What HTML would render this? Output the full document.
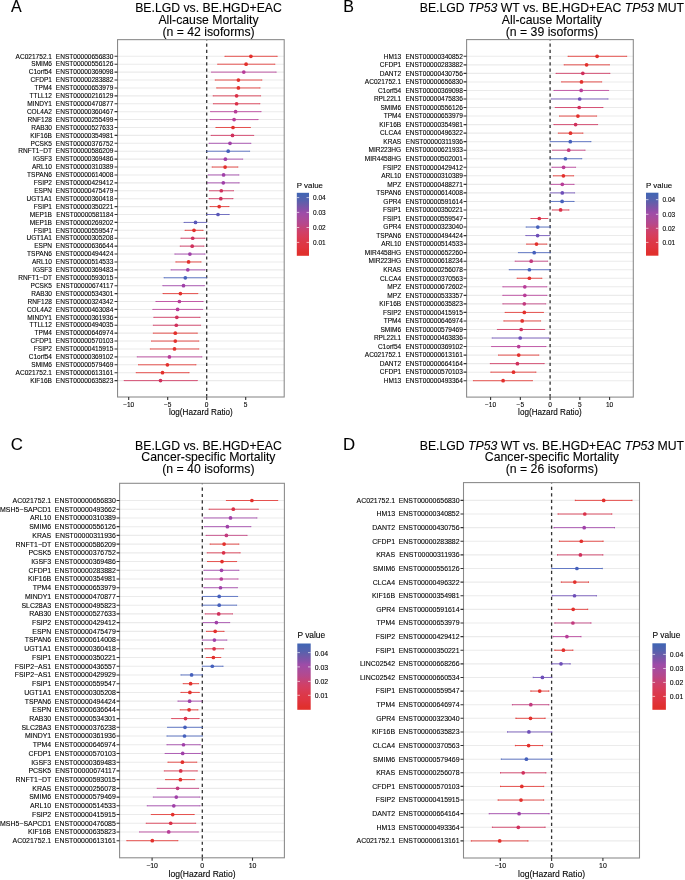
<!DOCTYPE html>
<html><head><meta charset="utf-8"><title>Forest plots</title>
<style>
html,body{margin:0;padding:0;background:#fff;}
body{width:685px;height:880px;overflow:hidden;font-family:"Liberation Sans", sans-serif;}
svg{display:block;filter:blur(0.3px);}
text{font-family:"Liberation Sans", sans-serif;stroke:#000;stroke-width:0.1;}
</style></head><body>
<svg width="685" height="880" viewBox="0 0 685 880" font-family="'Liberation Sans', sans-serif">
<text x="11" y="12.15" font-size="16" fill="#000000">A</text>
<text x="208.5" y="12.15" font-size="12.25" fill="#000000" text-anchor="middle" xml:space="preserve">BE.LGD vs. BE.HGD+EAC</text>
<text x="208.5" y="23.85" font-size="12.25" fill="#000000" text-anchor="middle" xml:space="preserve">All-cause Mortality</text>
<text x="208.5" y="35.55" font-size="12.25" fill="#000000" text-anchor="middle" xml:space="preserve">(n = 42 isoforms)</text>
<path d="M117.55 56.3H284.2M117.55 64.21H284.2M117.55 72.12H284.2M117.55 80.03H284.2M117.55 87.94H284.2M117.55 95.85H284.2M117.55 103.76H284.2M117.55 111.67H284.2M117.55 119.58H284.2M117.55 127.49H284.2M117.55 135.4H284.2M117.55 143.31H284.2M117.55 151.22H284.2M117.55 159.13H284.2M117.55 167.04H284.2M117.55 174.95H284.2M117.55 182.86H284.2M117.55 190.77H284.2M117.55 198.68H284.2M117.55 206.59H284.2M117.55 214.5H284.2M117.55 222.41H284.2M117.55 230.32H284.2M117.55 238.23H284.2M117.55 246.14H284.2M117.55 254.05H284.2M117.55 261.96H284.2M117.55 269.87H284.2M117.55 277.78H284.2M117.55 285.69H284.2M117.55 293.6H284.2M117.55 301.51H284.2M117.55 309.42H284.2M117.55 317.33H284.2M117.55 325.24H284.2M117.55 333.15H284.2M117.55 341.06H284.2M117.55 348.97H284.2M117.55 356.88H284.2M117.55 364.79H284.2M117.55 372.7H284.2M117.55 380.61H284.2" stroke="#ebebeb" stroke-width="1.07" fill="none"/>
<line x1="206.7" y1="39.65" x2="206.7" y2="397" stroke="#333333" stroke-width="1.3" stroke-dasharray="3.13 3.13" stroke-dashoffset="2.36"/>
<path d="M224.9 56.3H277.2M224.9 55.9V56.7M277.2 55.9V56.7" stroke="#E3302C" stroke-width="1.0" stroke-opacity="0.82" fill="none"/>
<circle cx="250.9" cy="56.3" r="1.85" fill="#E3302C"/>
<path d="M217.7 64.21H274.9M217.7 63.81V64.61M274.9 63.81V64.61" stroke="#E3302C" stroke-width="1.0" stroke-opacity="0.82" fill="none"/>
<circle cx="246.1" cy="64.21" r="1.85" fill="#E3302C"/>
<path d="M211.6 72.12H276.2M211.6 71.72V72.52M276.2 71.72V72.52" stroke="#B83C98" stroke-width="1.0" stroke-opacity="0.82" fill="none"/>
<circle cx="243.8" cy="72.12" r="1.85" fill="#B83C98"/>
<path d="M215.2 80.03H261.9M215.2 79.63V80.43M261.9 79.63V80.43" stroke="#E3302C" stroke-width="1.0" stroke-opacity="0.82" fill="none"/>
<circle cx="238.4" cy="80.03" r="1.85" fill="#E3302C"/>
<path d="M216.7 87.94H260.1M216.7 87.54V88.34M260.1 87.54V88.34" stroke="#E3302C" stroke-width="1.0" stroke-opacity="0.82" fill="none"/>
<circle cx="238.4" cy="87.94" r="1.85" fill="#E3302C"/>
<path d="M213.1 95.85H260.6M213.1 95.45V96.25M260.6 95.45V96.25" stroke="#DA3048" stroke-width="1.0" stroke-opacity="0.82" fill="none"/>
<circle cx="236.6" cy="95.85" r="1.85" fill="#DA3048"/>
<path d="M213.4 103.76H259.9M213.4 103.36V104.16M259.9 103.36V104.16" stroke="#DA3048" stroke-width="1.0" stroke-opacity="0.82" fill="none"/>
<circle cx="236.6" cy="103.76" r="1.85" fill="#DA3048"/>
<path d="M210.6 111.67H261.1M210.6 111.27V112.07M261.1 111.27V112.07" stroke="#B83C98" stroke-width="1.0" stroke-opacity="0.82" fill="none"/>
<circle cx="235.6" cy="111.67" r="1.85" fill="#B83C98"/>
<path d="M210 119.58H258.1M210 119.18V119.98M258.1 119.18V119.98" stroke="#B83C98" stroke-width="1.0" stroke-opacity="0.82" fill="none"/>
<circle cx="234.1" cy="119.58" r="1.85" fill="#B83C98"/>
<path d="M215.9 127.49H250.4M215.9 127.09V127.89M250.4 127.09V127.89" stroke="#E3302C" stroke-width="1.0" stroke-opacity="0.82" fill="none"/>
<circle cx="233" cy="127.49" r="1.85" fill="#E3302C"/>
<path d="M211.1 135.4H253.7M211.1 135V135.8M253.7 135V135.8" stroke="#D0305C" stroke-width="1.0" stroke-opacity="0.82" fill="none"/>
<circle cx="232.5" cy="135.4" r="1.85" fill="#D0305C"/>
<path d="M209 143.31H250.9M209 142.91V143.71M250.9 142.91V143.71" stroke="#A040A8" stroke-width="1.0" stroke-opacity="0.82" fill="none"/>
<circle cx="230" cy="143.31" r="1.85" fill="#A040A8"/>
<path d="M206.5 151.22H249.6M206.5 150.82V151.62M249.6 150.82V151.62" stroke="#4560BC" stroke-width="1.0" stroke-opacity="0.82" fill="none"/>
<circle cx="228.2" cy="151.22" r="1.85" fill="#4560BC"/>
<path d="M208.5 159.13H242.7M208.5 158.73V159.53M242.7 158.73V159.53" stroke="#A040A8" stroke-width="1.0" stroke-opacity="0.82" fill="none"/>
<circle cx="225.4" cy="159.13" r="1.85" fill="#A040A8"/>
<path d="M212.1 167.04H237.9M212.1 166.64V167.44M237.9 166.64V167.44" stroke="#E3302C" stroke-width="1.0" stroke-opacity="0.82" fill="none"/>
<circle cx="225.1" cy="167.04" r="1.85" fill="#E3302C"/>
<path d="M208.3 174.95H238.9M208.3 174.55V175.35M238.9 174.55V175.35" stroke="#A040A8" stroke-width="1.0" stroke-opacity="0.82" fill="none"/>
<circle cx="223.6" cy="174.95" r="1.85" fill="#A040A8"/>
<path d="M207.5 182.86H239.2M207.5 182.46V183.26M239.2 182.46V183.26" stroke="#A040A8" stroke-width="1.0" stroke-opacity="0.82" fill="none"/>
<circle cx="223.3" cy="182.86" r="1.85" fill="#A040A8"/>
<path d="M209.5 190.77H233.5M209.5 190.37V191.17M233.5 190.37V191.17" stroke="#D0305C" stroke-width="1.0" stroke-opacity="0.82" fill="none"/>
<circle cx="221.3" cy="190.77" r="1.85" fill="#D0305C"/>
<path d="M209 198.68H233M209 198.28V199.08M233 198.28V199.08" stroke="#D0305C" stroke-width="1.0" stroke-opacity="0.82" fill="none"/>
<circle cx="220.8" cy="198.68" r="1.85" fill="#D0305C"/>
<path d="M210 206.59H229M210 206.19V206.99M229 206.19V206.99" stroke="#E3302C" stroke-width="1.0" stroke-opacity="0.82" fill="none"/>
<circle cx="219.2" cy="206.59" r="1.85" fill="#E3302C"/>
<path d="M206.5 214.5H229.2M206.5 214.1V214.9M229.2 214.1V214.9" stroke="#5A58B8" stroke-width="1.0" stroke-opacity="0.82" fill="none"/>
<circle cx="218" cy="214.5" r="1.85" fill="#5A58B8"/>
<path d="M184 222.41H206.5M184 222.01V222.81M206.5 222.01V222.81" stroke="#5A58B8" stroke-width="1.0" stroke-opacity="0.82" fill="none"/>
<circle cx="195.5" cy="222.41" r="1.85" fill="#5A58B8"/>
<path d="M185 230.32H203.1M185 229.92V230.72M203.1 229.92V230.72" stroke="#E3302C" stroke-width="1.0" stroke-opacity="0.82" fill="none"/>
<circle cx="194" cy="230.32" r="1.85" fill="#E3302C"/>
<path d="M180.9 238.23H205M180.9 237.83V238.63M205 237.83V238.63" stroke="#D0305C" stroke-width="1.0" stroke-opacity="0.82" fill="none"/>
<circle cx="192.7" cy="238.23" r="1.85" fill="#D0305C"/>
<path d="M180.2 246.14H203.9M180.2 245.74V246.54M203.9 245.74V246.54" stroke="#D0305C" stroke-width="1.0" stroke-opacity="0.82" fill="none"/>
<circle cx="192.2" cy="246.14" r="1.85" fill="#D0305C"/>
<path d="M174.8 254.05H205M174.8 253.65V254.45M205 253.65V254.45" stroke="#A040A8" stroke-width="1.0" stroke-opacity="0.82" fill="none"/>
<circle cx="189.9" cy="254.05" r="1.85" fill="#A040A8"/>
<path d="M175.8 261.96H201.1M175.8 261.56V262.36M201.1 261.56V262.36" stroke="#E3302C" stroke-width="1.0" stroke-opacity="0.82" fill="none"/>
<circle cx="188.6" cy="261.96" r="1.85" fill="#E3302C"/>
<path d="M171 269.87H205M171 269.47V270.27M205 269.47V270.27" stroke="#A040A8" stroke-width="1.0" stroke-opacity="0.82" fill="none"/>
<circle cx="187.8" cy="269.87" r="1.85" fill="#A040A8"/>
<path d="M164 277.78H206.5M164 277.38V278.18M206.5 277.38V278.18" stroke="#4560BC" stroke-width="1.0" stroke-opacity="0.82" fill="none"/>
<circle cx="185.3" cy="277.78" r="1.85" fill="#4560BC"/>
<path d="M162.8 285.69H204.4M162.8 285.29V286.09M204.4 285.29V286.09" stroke="#A040A8" stroke-width="1.0" stroke-opacity="0.82" fill="none"/>
<circle cx="183.5" cy="285.69" r="1.85" fill="#A040A8"/>
<path d="M163 293.6H197.8M163 293.2V294M197.8 293.2V294" stroke="#E3302C" stroke-width="1.0" stroke-opacity="0.82" fill="none"/>
<circle cx="180.4" cy="293.6" r="1.85" fill="#E3302C"/>
<path d="M155.9 301.51H203.1M155.9 301.11V301.91M203.1 301.11V301.91" stroke="#B83C98" stroke-width="1.0" stroke-opacity="0.82" fill="none"/>
<circle cx="179.4" cy="301.51" r="1.85" fill="#B83C98"/>
<path d="M152.8 309.42H202.6M152.8 309.02V309.82M202.6 309.02V309.82" stroke="#B83C98" stroke-width="1.0" stroke-opacity="0.82" fill="none"/>
<circle cx="177.6" cy="309.42" r="1.85" fill="#B83C98"/>
<path d="M153.8 317.33H200.1M153.8 316.93V317.73M200.1 316.93V317.73" stroke="#D0305C" stroke-width="1.0" stroke-opacity="0.82" fill="none"/>
<circle cx="176.8" cy="317.33" r="1.85" fill="#D0305C"/>
<path d="M153.3 325.24H200.6M153.3 324.84V325.64M200.6 324.84V325.64" stroke="#D0305C" stroke-width="1.0" stroke-opacity="0.82" fill="none"/>
<circle cx="176.3" cy="325.24" r="1.85" fill="#D0305C"/>
<path d="M153.3 333.15H197.3M153.3 332.75V333.55M197.3 332.75V333.55" stroke="#E3302C" stroke-width="1.0" stroke-opacity="0.82" fill="none"/>
<circle cx="175.3" cy="333.15" r="1.85" fill="#E3302C"/>
<path d="M151.5 341.06H198.8M151.5 340.66V341.46M198.8 340.66V341.46" stroke="#E3302C" stroke-width="1.0" stroke-opacity="0.82" fill="none"/>
<circle cx="175.3" cy="341.06" r="1.85" fill="#E3302C"/>
<path d="M150.3 348.97H198.8M150.3 348.57V349.37M198.8 348.57V349.37" stroke="#E3302C" stroke-width="1.0" stroke-opacity="0.82" fill="none"/>
<circle cx="174.5" cy="348.97" r="1.85" fill="#E3302C"/>
<path d="M137.2 356.88H201.9M137.2 356.48V357.28M201.9 356.48V357.28" stroke="#B83C98" stroke-width="1.0" stroke-opacity="0.82" fill="none"/>
<circle cx="169.4" cy="356.88" r="1.85" fill="#B83C98"/>
<path d="M138.5 364.79H196M138.5 364.39V365.19M196 364.39V365.19" stroke="#E3302C" stroke-width="1.0" stroke-opacity="0.82" fill="none"/>
<circle cx="167.4" cy="364.79" r="1.85" fill="#E3302C"/>
<path d="M136.2 372.7H189.1M136.2 372.3V373.1M189.1 372.3V373.1" stroke="#E3302C" stroke-width="1.0" stroke-opacity="0.82" fill="none"/>
<circle cx="162.5" cy="372.7" r="1.85" fill="#E3302C"/>
<path d="M124.2 380.61H197.3M124.2 380.21V381.01M197.3 380.21V381.01" stroke="#D0305C" stroke-width="1.0" stroke-opacity="0.82" fill="none"/>
<circle cx="160.5" cy="380.61" r="1.85" fill="#D0305C"/>
<rect x="117.55" y="39.65" width="166.65" height="357.35" fill="none" stroke="#8a8a8a" stroke-width="1.07"/>
<path d="M114.55 56.3H117.55M114.55 64.21H117.55M114.55 72.12H117.55M114.55 80.03H117.55M114.55 87.94H117.55M114.55 95.85H117.55M114.55 103.76H117.55M114.55 111.67H117.55M114.55 119.58H117.55M114.55 127.49H117.55M114.55 135.4H117.55M114.55 143.31H117.55M114.55 151.22H117.55M114.55 159.13H117.55M114.55 167.04H117.55M114.55 174.95H117.55M114.55 182.86H117.55M114.55 190.77H117.55M114.55 198.68H117.55M114.55 206.59H117.55M114.55 214.5H117.55M114.55 222.41H117.55M114.55 230.32H117.55M114.55 238.23H117.55M114.55 246.14H117.55M114.55 254.05H117.55M114.55 261.96H117.55M114.55 269.87H117.55M114.55 277.78H117.55M114.55 285.69H117.55M114.55 293.6H117.55M114.55 301.51H117.55M114.55 309.42H117.55M114.55 317.33H117.55M114.55 325.24H117.55M114.55 333.15H117.55M114.55 341.06H117.55M114.55 348.97H117.55M114.55 356.88H117.55M114.55 364.79H117.55M114.55 372.7H117.55M114.55 380.61H117.55" stroke="#333333" stroke-width="1.1" fill="none"/>
<text x="52" y="58.55" font-size="6.55" fill="#000000" text-anchor="end">AC021752.1</text>
<text x="113.3" y="58.55" font-size="6.55" fill="#000000" text-anchor="end">ENST00000656830</text>
<text x="52" y="66.46" font-size="6.55" fill="#000000" text-anchor="end">SMIM6</text>
<text x="113.3" y="66.46" font-size="6.55" fill="#000000" text-anchor="end">ENST00000556126</text>
<text x="52" y="74.37" font-size="6.55" fill="#000000" text-anchor="end">C1orf54</text>
<text x="113.3" y="74.37" font-size="6.55" fill="#000000" text-anchor="end">ENST00000369098</text>
<text x="52" y="82.28" font-size="6.55" fill="#000000" text-anchor="end">CFDP1</text>
<text x="113.3" y="82.28" font-size="6.55" fill="#000000" text-anchor="end">ENST00000283882</text>
<text x="52" y="90.19" font-size="6.55" fill="#000000" text-anchor="end">TPM4</text>
<text x="113.3" y="90.19" font-size="6.55" fill="#000000" text-anchor="end">ENST00000653979</text>
<text x="52" y="98.1" font-size="6.55" fill="#000000" text-anchor="end">TTLL12</text>
<text x="113.3" y="98.1" font-size="6.55" fill="#000000" text-anchor="end">ENST00000216129</text>
<text x="52" y="106.01" font-size="6.55" fill="#000000" text-anchor="end">MINDY1</text>
<text x="113.3" y="106.01" font-size="6.55" fill="#000000" text-anchor="end">ENST00000470877</text>
<text x="52" y="113.92" font-size="6.55" fill="#000000" text-anchor="end">COL4A2</text>
<text x="113.3" y="113.92" font-size="6.55" fill="#000000" text-anchor="end">ENST00000360467</text>
<text x="52" y="121.83" font-size="6.55" fill="#000000" text-anchor="end">RNF128</text>
<text x="113.3" y="121.83" font-size="6.55" fill="#000000" text-anchor="end">ENST00000255499</text>
<text x="52" y="129.74" font-size="6.55" fill="#000000" text-anchor="end">RAB30</text>
<text x="113.3" y="129.74" font-size="6.55" fill="#000000" text-anchor="end">ENST00000527633</text>
<text x="52" y="137.65" font-size="6.55" fill="#000000" text-anchor="end">KIF16B</text>
<text x="113.3" y="137.65" font-size="6.55" fill="#000000" text-anchor="end">ENST00000354981</text>
<text x="52" y="145.56" font-size="6.55" fill="#000000" text-anchor="end">PCSK5</text>
<text x="113.3" y="145.56" font-size="6.55" fill="#000000" text-anchor="end">ENST00000376752</text>
<text x="52" y="153.47" font-size="6.55" fill="#000000" text-anchor="end">RNFT1−DT</text>
<text x="113.3" y="153.47" font-size="6.55" fill="#000000" text-anchor="end">ENST00000586209</text>
<text x="52" y="161.38" font-size="6.55" fill="#000000" text-anchor="end">IGSF3</text>
<text x="113.3" y="161.38" font-size="6.55" fill="#000000" text-anchor="end">ENST00000369486</text>
<text x="52" y="169.29" font-size="6.55" fill="#000000" text-anchor="end">ARL10</text>
<text x="113.3" y="169.29" font-size="6.55" fill="#000000" text-anchor="end">ENST00000310389</text>
<text x="52" y="177.2" font-size="6.55" fill="#000000" text-anchor="end">TSPAN6</text>
<text x="113.3" y="177.2" font-size="6.55" fill="#000000" text-anchor="end">ENST00000614008</text>
<text x="52" y="185.11" font-size="6.55" fill="#000000" text-anchor="end">FSIP2</text>
<text x="113.3" y="185.11" font-size="6.55" fill="#000000" text-anchor="end">ENST00000429412</text>
<text x="52" y="193.02" font-size="6.55" fill="#000000" text-anchor="end">ESPN</text>
<text x="113.3" y="193.02" font-size="6.55" fill="#000000" text-anchor="end">ENST00000475479</text>
<text x="52" y="200.93" font-size="6.55" fill="#000000" text-anchor="end">UGT1A1</text>
<text x="113.3" y="200.93" font-size="6.55" fill="#000000" text-anchor="end">ENST00000360418</text>
<text x="52" y="208.84" font-size="6.55" fill="#000000" text-anchor="end">FSIP1</text>
<text x="113.3" y="208.84" font-size="6.55" fill="#000000" text-anchor="end">ENST00000350221</text>
<text x="52" y="216.75" font-size="6.55" fill="#000000" text-anchor="end">MEP1B</text>
<text x="113.3" y="216.75" font-size="6.55" fill="#000000" text-anchor="end">ENST00000581184</text>
<text x="52" y="224.66" font-size="6.55" fill="#000000" text-anchor="end">MEP1B</text>
<text x="113.3" y="224.66" font-size="6.55" fill="#000000" text-anchor="end">ENST00000269202</text>
<text x="52" y="232.57" font-size="6.55" fill="#000000" text-anchor="end">FSIP1</text>
<text x="113.3" y="232.57" font-size="6.55" fill="#000000" text-anchor="end">ENST00000559547</text>
<text x="52" y="240.48" font-size="6.55" fill="#000000" text-anchor="end">UGT1A1</text>
<text x="113.3" y="240.48" font-size="6.55" fill="#000000" text-anchor="end">ENST00000305208</text>
<text x="52" y="248.39" font-size="6.55" fill="#000000" text-anchor="end">ESPN</text>
<text x="113.3" y="248.39" font-size="6.55" fill="#000000" text-anchor="end">ENST00000636644</text>
<text x="52" y="256.3" font-size="6.55" fill="#000000" text-anchor="end">TSPAN6</text>
<text x="113.3" y="256.3" font-size="6.55" fill="#000000" text-anchor="end">ENST00000494424</text>
<text x="52" y="264.21" font-size="6.55" fill="#000000" text-anchor="end">ARL10</text>
<text x="113.3" y="264.21" font-size="6.55" fill="#000000" text-anchor="end">ENST00000514533</text>
<text x="52" y="272.12" font-size="6.55" fill="#000000" text-anchor="end">IGSF3</text>
<text x="113.3" y="272.12" font-size="6.55" fill="#000000" text-anchor="end">ENST00000369483</text>
<text x="52" y="280.03" font-size="6.55" fill="#000000" text-anchor="end">RNFT1−DT</text>
<text x="113.3" y="280.03" font-size="6.55" fill="#000000" text-anchor="end">ENST00000593015</text>
<text x="52" y="287.94" font-size="6.55" fill="#000000" text-anchor="end">PCSK5</text>
<text x="113.3" y="287.94" font-size="6.55" fill="#000000" text-anchor="end">ENST00000674117</text>
<text x="52" y="295.85" font-size="6.55" fill="#000000" text-anchor="end">RAB30</text>
<text x="113.3" y="295.85" font-size="6.55" fill="#000000" text-anchor="end">ENST00000534301</text>
<text x="52" y="303.76" font-size="6.55" fill="#000000" text-anchor="end">RNF128</text>
<text x="113.3" y="303.76" font-size="6.55" fill="#000000" text-anchor="end">ENST00000324342</text>
<text x="52" y="311.67" font-size="6.55" fill="#000000" text-anchor="end">COL4A2</text>
<text x="113.3" y="311.67" font-size="6.55" fill="#000000" text-anchor="end">ENST00000463084</text>
<text x="52" y="319.58" font-size="6.55" fill="#000000" text-anchor="end">MINDY1</text>
<text x="113.3" y="319.58" font-size="6.55" fill="#000000" text-anchor="end">ENST00000361936</text>
<text x="52" y="327.49" font-size="6.55" fill="#000000" text-anchor="end">TTLL12</text>
<text x="113.3" y="327.49" font-size="6.55" fill="#000000" text-anchor="end">ENST00000494035</text>
<text x="52" y="335.4" font-size="6.55" fill="#000000" text-anchor="end">TPM4</text>
<text x="113.3" y="335.4" font-size="6.55" fill="#000000" text-anchor="end">ENST00000646974</text>
<text x="52" y="343.31" font-size="6.55" fill="#000000" text-anchor="end">CFDP1</text>
<text x="113.3" y="343.31" font-size="6.55" fill="#000000" text-anchor="end">ENST00000570103</text>
<text x="52" y="351.22" font-size="6.55" fill="#000000" text-anchor="end">FSIP2</text>
<text x="113.3" y="351.22" font-size="6.55" fill="#000000" text-anchor="end">ENST00000415915</text>
<text x="52" y="359.13" font-size="6.55" fill="#000000" text-anchor="end">C1orf54</text>
<text x="113.3" y="359.13" font-size="6.55" fill="#000000" text-anchor="end">ENST00000369102</text>
<text x="52" y="367.04" font-size="6.55" fill="#000000" text-anchor="end">SMIM6</text>
<text x="113.3" y="367.04" font-size="6.55" fill="#000000" text-anchor="end">ENST00000579469</text>
<text x="52" y="374.95" font-size="6.55" fill="#000000" text-anchor="end">AC021752.1</text>
<text x="113.3" y="374.95" font-size="6.55" fill="#000000" text-anchor="end">ENST00000613161</text>
<text x="52" y="382.86" font-size="6.55" fill="#000000" text-anchor="end">KIF16B</text>
<text x="113.3" y="382.86" font-size="6.55" fill="#000000" text-anchor="end">ENST00000635823</text>
<path d="M128.7 397V400M167.7 397V400M206.7 397V400M245.7 397V400" stroke="#333333" stroke-width="1.1" fill="none"/>
<text x="128.7" y="406.6" font-size="6.55" fill="#000000" text-anchor="middle">−10</text>
<text x="167.7" y="406.6" font-size="6.55" fill="#000000" text-anchor="middle">−5</text>
<text x="206.7" y="406.6" font-size="6.55" fill="#000000" text-anchor="middle">0</text>
<text x="245.7" y="406.6" font-size="6.55" fill="#000000" text-anchor="middle">5</text>
<text x="200.88" y="415.3" font-size="8.15" fill="#000000" text-anchor="middle">log(Hazard Ratio)</text>
<text x="296.8" y="187.9" font-size="7.9" fill="#000000">P value</text>
<defs><linearGradient id="gA" x1="0" y1="0" x2="0" y2="1"><stop offset="0" stop-color="#3F65B4"/><stop offset="0.11" stop-color="#5462AE"/><stop offset="0.19" stop-color="#6E5AA8"/><stop offset="0.27" stop-color="#8A50A8"/><stop offset="0.32" stop-color="#9E4CA8"/><stop offset="0.4" stop-color="#A84C9C"/><stop offset="0.49" stop-color="#B6488C"/><stop offset="0.56" stop-color="#C44478"/><stop offset="0.62" stop-color="#D04068"/><stop offset="0.7" stop-color="#D83C58"/><stop offset="0.78" stop-color="#DC3848"/><stop offset="0.86" stop-color="#E03440"/><stop offset="0.95" stop-color="#E0302E"/><stop offset="1" stop-color="#E2302C"/></linearGradient></defs>
<rect x="296.8" y="192.8" width="12.2" height="63" fill="url(#gA)"/>
<path d="M296.8 197.6H299.24M306.56 197.6H309M296.8 212.4H299.24M306.56 212.4H309M296.8 227.5H299.24M306.56 227.5H309M296.8 242.4H299.24M306.56 242.4H309" stroke="#ffffff" stroke-opacity="0.8" stroke-width="0.8" fill="none"/>
<text x="313" y="200.33" font-size="6.5" fill="#000000">0.04</text>
<text x="313" y="215.13" font-size="6.5" fill="#000000">0.03</text>
<text x="313" y="230.23" font-size="6.5" fill="#000000">0.02</text>
<text x="313" y="245.13" font-size="6.5" fill="#000000">0.01</text>
<text x="343.3" y="12.15" font-size="16" fill="#000000">B</text>
<text x="551.9" y="12.15" font-size="12.25" fill="#000000" text-anchor="middle" xml:space="preserve">BE.LGD <tspan font-style="italic">TP53</tspan> WT vs. BE.HGD+EAC <tspan font-style="italic">TP53</tspan> MUT</text>
<text x="551.9" y="23.85" font-size="12.25" fill="#000000" text-anchor="middle" xml:space="preserve">All-cause Mortality</text>
<text x="551.9" y="35.55" font-size="12.25" fill="#000000" text-anchor="middle" xml:space="preserve">(n = 39 isoforms)</text>
<path d="M466.6 56.3H633.3M466.6 64.84H633.3M466.6 73.37H633.3M466.6 81.91H633.3M466.6 90.45H633.3M466.6 98.98H633.3M466.6 107.52H633.3M466.6 116.06H633.3M466.6 124.6H633.3M466.6 133.13H633.3M466.6 141.67H633.3M466.6 150.21H633.3M466.6 158.74H633.3M466.6 167.28H633.3M466.6 175.82H633.3M466.6 184.36H633.3M466.6 192.89H633.3M466.6 201.43H633.3M466.6 209.97H633.3M466.6 218.5H633.3M466.6 227.04H633.3M466.6 235.58H633.3M466.6 244.11H633.3M466.6 252.65H633.3M466.6 261.19H633.3M466.6 269.73H633.3M466.6 278.26H633.3M466.6 286.8H633.3M466.6 295.34H633.3M466.6 303.87H633.3M466.6 312.41H633.3M466.6 320.95H633.3M466.6 329.48H633.3M466.6 338.02H633.3M466.6 346.56H633.3M466.6 355.1H633.3M466.6 363.63H633.3M466.6 372.17H633.3M466.6 380.71H633.3" stroke="#ebebeb" stroke-width="1.07" fill="none"/>
<line x1="550.1" y1="39.6" x2="550.1" y2="397.1" stroke="#333333" stroke-width="1.3" stroke-dasharray="3.13 3.13" stroke-dashoffset="2.33"/>
<path d="M568 56.3H626.7M568 55.87V56.73M626.7 55.87V56.73" stroke="#E3302C" stroke-width="1.0" stroke-opacity="0.82" fill="none"/>
<circle cx="597.1" cy="56.3" r="1.85" fill="#E3302C"/>
<path d="M564.1 64.84H609.4M564.1 64.41V65.26M609.4 64.41V65.26" stroke="#E3302C" stroke-width="1.0" stroke-opacity="0.82" fill="none"/>
<circle cx="586.6" cy="64.84" r="1.85" fill="#E3302C"/>
<path d="M556 73.37H609.9M556 72.95V73.8M609.9 72.95V73.8" stroke="#D0305C" stroke-width="1.0" stroke-opacity="0.82" fill="none"/>
<circle cx="582.8" cy="73.37" r="1.85" fill="#D0305C"/>
<path d="M561.6 81.91H601.7M561.6 81.48V82.34M601.7 81.48V82.34" stroke="#E3302C" stroke-width="1.0" stroke-opacity="0.82" fill="none"/>
<circle cx="581.5" cy="81.91" r="1.85" fill="#E3302C"/>
<path d="M553.9 90.45H608.6M553.9 90.02V90.87M608.6 90.02V90.87" stroke="#B83C98" stroke-width="1.0" stroke-opacity="0.82" fill="none"/>
<circle cx="581.2" cy="90.45" r="1.85" fill="#B83C98"/>
<path d="M551.4 98.98H608.1M551.4 98.56V99.41M608.1 98.56V99.41" stroke="#6E4EB8" stroke-width="1.0" stroke-opacity="0.82" fill="none"/>
<circle cx="579.7" cy="98.98" r="1.85" fill="#6E4EB8"/>
<path d="M555.2 107.52H603M555.2 107.1V107.95M603 107.1V107.95" stroke="#D0305C" stroke-width="1.0" stroke-opacity="0.82" fill="none"/>
<circle cx="579.2" cy="107.52" r="1.85" fill="#D0305C"/>
<path d="M559.5 116.06H596.6M559.5 115.63V116.49M596.6 115.63V116.49" stroke="#E3302C" stroke-width="1.0" stroke-opacity="0.82" fill="none"/>
<circle cx="577.9" cy="116.06" r="1.85" fill="#E3302C"/>
<path d="M553.9 124.6H597.6M553.9 124.17V125.02M597.6 124.17V125.02" stroke="#D0305C" stroke-width="1.0" stroke-opacity="0.82" fill="none"/>
<circle cx="575.6" cy="124.6" r="1.85" fill="#D0305C"/>
<path d="M558.3 133.13H583M558.3 132.71V133.56M583 132.71V133.56" stroke="#E3302C" stroke-width="1.0" stroke-opacity="0.82" fill="none"/>
<circle cx="570.5" cy="133.13" r="1.85" fill="#E3302C"/>
<path d="M550.3 141.67H591M550.3 141.24V142.1M591 141.24V142.1" stroke="#4560BC" stroke-width="1.0" stroke-opacity="0.82" fill="none"/>
<circle cx="570.3" cy="141.67" r="1.85" fill="#4560BC"/>
<path d="M552.6 150.21H585.1M552.6 149.78V150.63M585.1 149.78V150.63" stroke="#C23A7E" stroke-width="1.0" stroke-opacity="0.82" fill="none"/>
<circle cx="568.7" cy="150.21" r="1.85" fill="#C23A7E"/>
<path d="M550.3 158.74H581.8M550.3 158.32V159.17M581.8 158.32V159.17" stroke="#4560BC" stroke-width="1.0" stroke-opacity="0.82" fill="none"/>
<circle cx="565.4" cy="158.74" r="1.85" fill="#4560BC"/>
<path d="M551.9 167.28H575.6M551.9 166.85V167.71M575.6 166.85V167.71" stroke="#B83C98" stroke-width="1.0" stroke-opacity="0.82" fill="none"/>
<circle cx="563.6" cy="167.28" r="1.85" fill="#B83C98"/>
<path d="M553.4 175.82H573.6M553.4 175.39V176.24M573.6 175.39V176.24" stroke="#E3302C" stroke-width="1.0" stroke-opacity="0.82" fill="none"/>
<circle cx="563.4" cy="175.82" r="1.85" fill="#E3302C"/>
<path d="M551.1 184.36H574.1M551.1 183.93V184.78M574.1 183.93V184.78" stroke="#B83C98" stroke-width="1.0" stroke-opacity="0.82" fill="none"/>
<circle cx="562.3" cy="184.36" r="1.85" fill="#B83C98"/>
<path d="M550.6 192.89H574.6M550.6 192.47V193.32M574.6 192.47V193.32" stroke="#6E4EB8" stroke-width="1.0" stroke-opacity="0.82" fill="none"/>
<circle cx="562.3" cy="192.89" r="1.85" fill="#6E4EB8"/>
<path d="M550.3 201.43H574.1M550.3 201V201.86M574.1 201V201.86" stroke="#4560BC" stroke-width="1.0" stroke-opacity="0.82" fill="none"/>
<circle cx="562.1" cy="201.43" r="1.85" fill="#4560BC"/>
<path d="M552.4 209.97H569M552.4 209.54V210.39M569 209.54V210.39" stroke="#DA3048" stroke-width="1.0" stroke-opacity="0.82" fill="none"/>
<circle cx="560.6" cy="209.97" r="1.85" fill="#DA3048"/>
<path d="M530.9 218.5H547.8M530.9 218.08V218.93M547.8 218.08V218.93" stroke="#DA3048" stroke-width="1.0" stroke-opacity="0.82" fill="none"/>
<circle cx="539.3" cy="218.5" r="1.85" fill="#DA3048"/>
<path d="M526.1 227.04H550.3M526.1 226.61V227.47M550.3 226.61V227.47" stroke="#4560BC" stroke-width="1.0" stroke-opacity="0.82" fill="none"/>
<circle cx="537.8" cy="227.04" r="1.85" fill="#4560BC"/>
<path d="M525.8 235.58H549.6M525.8 235.15V236M549.6 235.15V236" stroke="#6E4EB8" stroke-width="1.0" stroke-opacity="0.82" fill="none"/>
<circle cx="537.6" cy="235.58" r="1.85" fill="#6E4EB8"/>
<path d="M526.6 244.11H546.8M526.6 243.69V244.54M546.8 243.69V244.54" stroke="#E3302C" stroke-width="1.0" stroke-opacity="0.82" fill="none"/>
<circle cx="536.5" cy="244.11" r="1.85" fill="#E3302C"/>
<path d="M518.4 252.65H550.3M518.4 252.22V253.08M550.3 252.22V253.08" stroke="#4560BC" stroke-width="1.0" stroke-opacity="0.82" fill="none"/>
<circle cx="534.2" cy="252.65" r="1.85" fill="#4560BC"/>
<path d="M515.1 261.19H547.5M515.1 260.76V261.61M547.5 260.76V261.61" stroke="#C23A7E" stroke-width="1.0" stroke-opacity="0.82" fill="none"/>
<circle cx="531.2" cy="261.19" r="1.85" fill="#C23A7E"/>
<path d="M509.2 269.73H550.3M509.2 269.3V270.15M550.3 269.3V270.15" stroke="#4560BC" stroke-width="1.0" stroke-opacity="0.82" fill="none"/>
<circle cx="529.4" cy="269.73" r="1.85" fill="#4560BC"/>
<path d="M517.1 278.26H541.9M517.1 277.84V278.69M541.9 277.84V278.69" stroke="#E3302C" stroke-width="1.0" stroke-opacity="0.82" fill="none"/>
<circle cx="529.4" cy="278.26" r="1.85" fill="#E3302C"/>
<path d="M502.8 286.8H546.8M502.8 286.37V287.23M546.8 286.37V287.23" stroke="#B83C98" stroke-width="1.0" stroke-opacity="0.82" fill="none"/>
<circle cx="524.8" cy="286.8" r="1.85" fill="#B83C98"/>
<path d="M502.8 295.34H546.8M502.8 294.91V295.76M546.8 294.91V295.76" stroke="#B83C98" stroke-width="1.0" stroke-opacity="0.82" fill="none"/>
<circle cx="524.8" cy="295.34" r="1.85" fill="#B83C98"/>
<path d="M502.8 303.87H545.7M502.8 303.45V304.3M545.7 303.45V304.3" stroke="#C23A7E" stroke-width="1.0" stroke-opacity="0.82" fill="none"/>
<circle cx="524.3" cy="303.87" r="1.85" fill="#C23A7E"/>
<path d="M505.1 312.41H543.4M505.1 311.98V312.84M543.4 311.98V312.84" stroke="#E3302C" stroke-width="1.0" stroke-opacity="0.82" fill="none"/>
<circle cx="524.3" cy="312.41" r="1.85" fill="#E3302C"/>
<path d="M503.8 320.95H540.6M503.8 320.52V321.37M540.6 320.52V321.37" stroke="#E3302C" stroke-width="1.0" stroke-opacity="0.82" fill="none"/>
<circle cx="522.2" cy="320.95" r="1.85" fill="#E3302C"/>
<path d="M497.4 329.48H544.7M497.4 329.06V329.91M544.7 329.06V329.91" stroke="#D0305C" stroke-width="1.0" stroke-opacity="0.82" fill="none"/>
<circle cx="521.2" cy="329.48" r="1.85" fill="#D0305C"/>
<path d="M492.1 338.02H548.8M492.1 337.59V338.45M548.8 337.59V338.45" stroke="#6E4EB8" stroke-width="1.0" stroke-opacity="0.82" fill="none"/>
<circle cx="520.2" cy="338.02" r="1.85" fill="#6E4EB8"/>
<path d="M491.6 346.56H546M491.6 346.13V346.98M546 346.13V346.98" stroke="#B83C98" stroke-width="1.0" stroke-opacity="0.82" fill="none"/>
<circle cx="518.7" cy="346.56" r="1.85" fill="#B83C98"/>
<path d="M498.5 355.1H538.8M498.5 354.67V355.52M538.8 354.67V355.52" stroke="#E3302C" stroke-width="1.0" stroke-opacity="0.82" fill="none"/>
<circle cx="518.7" cy="355.1" r="1.85" fill="#E3302C"/>
<path d="M490.3 363.63H544.2M490.3 363.21V364.06M544.2 363.21V364.06" stroke="#D0305C" stroke-width="1.0" stroke-opacity="0.82" fill="none"/>
<circle cx="517.4" cy="363.63" r="1.85" fill="#D0305C"/>
<path d="M490.8 372.17H536M490.8 371.74V372.6M536 371.74V372.6" stroke="#E3302C" stroke-width="1.0" stroke-opacity="0.82" fill="none"/>
<circle cx="513.5" cy="372.17" r="1.85" fill="#E3302C"/>
<path d="M473.4 380.71H532.4M473.4 380.28V381.13M532.4 380.28V381.13" stroke="#E3302C" stroke-width="1.0" stroke-opacity="0.82" fill="none"/>
<circle cx="503.1" cy="380.71" r="1.85" fill="#E3302C"/>
<rect x="466.6" y="39.6" width="166.7" height="357.5" fill="none" stroke="#8a8a8a" stroke-width="1.07"/>
<path d="M463.6 56.3H466.6M463.6 64.84H466.6M463.6 73.37H466.6M463.6 81.91H466.6M463.6 90.45H466.6M463.6 98.98H466.6M463.6 107.52H466.6M463.6 116.06H466.6M463.6 124.6H466.6M463.6 133.13H466.6M463.6 141.67H466.6M463.6 150.21H466.6M463.6 158.74H466.6M463.6 167.28H466.6M463.6 175.82H466.6M463.6 184.36H466.6M463.6 192.89H466.6M463.6 201.43H466.6M463.6 209.97H466.6M463.6 218.5H466.6M463.6 227.04H466.6M463.6 235.58H466.6M463.6 244.11H466.6M463.6 252.65H466.6M463.6 261.19H466.6M463.6 269.73H466.6M463.6 278.26H466.6M463.6 286.8H466.6M463.6 295.34H466.6M463.6 303.87H466.6M463.6 312.41H466.6M463.6 320.95H466.6M463.6 329.48H466.6M463.6 338.02H466.6M463.6 346.56H466.6M463.6 355.1H466.6M463.6 363.63H466.6M463.6 372.17H466.6M463.6 380.71H466.6" stroke="#333333" stroke-width="1.1" fill="none"/>
<text x="401.2" y="58.55" font-size="6.55" fill="#000000" text-anchor="end">HM13</text>
<text x="462.9" y="58.55" font-size="6.55" fill="#000000" text-anchor="end">ENST00000340852</text>
<text x="401.2" y="67.09" font-size="6.55" fill="#000000" text-anchor="end">CFDP1</text>
<text x="462.9" y="67.09" font-size="6.55" fill="#000000" text-anchor="end">ENST00000283882</text>
<text x="401.2" y="75.62" font-size="6.55" fill="#000000" text-anchor="end">DANT2</text>
<text x="462.9" y="75.62" font-size="6.55" fill="#000000" text-anchor="end">ENST00000430756</text>
<text x="401.2" y="84.16" font-size="6.55" fill="#000000" text-anchor="end">AC021752.1</text>
<text x="462.9" y="84.16" font-size="6.55" fill="#000000" text-anchor="end">ENST00000656830</text>
<text x="401.2" y="92.7" font-size="6.55" fill="#000000" text-anchor="end">C1orf54</text>
<text x="462.9" y="92.7" font-size="6.55" fill="#000000" text-anchor="end">ENST00000369098</text>
<text x="401.2" y="101.23" font-size="6.55" fill="#000000" text-anchor="end">RPL22L1</text>
<text x="462.9" y="101.23" font-size="6.55" fill="#000000" text-anchor="end">ENST00000475836</text>
<text x="401.2" y="109.77" font-size="6.55" fill="#000000" text-anchor="end">SMIM6</text>
<text x="462.9" y="109.77" font-size="6.55" fill="#000000" text-anchor="end">ENST00000556126</text>
<text x="401.2" y="118.31" font-size="6.55" fill="#000000" text-anchor="end">TPM4</text>
<text x="462.9" y="118.31" font-size="6.55" fill="#000000" text-anchor="end">ENST00000653979</text>
<text x="401.2" y="126.85" font-size="6.55" fill="#000000" text-anchor="end">KIF16B</text>
<text x="462.9" y="126.85" font-size="6.55" fill="#000000" text-anchor="end">ENST00000354981</text>
<text x="401.2" y="135.38" font-size="6.55" fill="#000000" text-anchor="end">CLCA4</text>
<text x="462.9" y="135.38" font-size="6.55" fill="#000000" text-anchor="end">ENST00000496322</text>
<text x="401.2" y="143.92" font-size="6.55" fill="#000000" text-anchor="end">KRAS</text>
<text x="462.9" y="143.92" font-size="6.55" fill="#000000" text-anchor="end">ENST00000311936</text>
<text x="401.2" y="152.46" font-size="6.55" fill="#000000" text-anchor="end">MIR223HG</text>
<text x="462.9" y="152.46" font-size="6.55" fill="#000000" text-anchor="end">ENST00000621933</text>
<text x="401.2" y="160.99" font-size="6.55" fill="#000000" text-anchor="end">MIR4458HG</text>
<text x="462.9" y="160.99" font-size="6.55" fill="#000000" text-anchor="end">ENST00000502001</text>
<text x="401.2" y="169.53" font-size="6.55" fill="#000000" text-anchor="end">FSIP2</text>
<text x="462.9" y="169.53" font-size="6.55" fill="#000000" text-anchor="end">ENST00000429412</text>
<text x="401.2" y="178.07" font-size="6.55" fill="#000000" text-anchor="end">ARL10</text>
<text x="462.9" y="178.07" font-size="6.55" fill="#000000" text-anchor="end">ENST00000310389</text>
<text x="401.2" y="186.61" font-size="6.55" fill="#000000" text-anchor="end">MPZ</text>
<text x="462.9" y="186.61" font-size="6.55" fill="#000000" text-anchor="end">ENST00000488271</text>
<text x="401.2" y="195.14" font-size="6.55" fill="#000000" text-anchor="end">TSPAN6</text>
<text x="462.9" y="195.14" font-size="6.55" fill="#000000" text-anchor="end">ENST00000614008</text>
<text x="401.2" y="203.68" font-size="6.55" fill="#000000" text-anchor="end">GPR4</text>
<text x="462.9" y="203.68" font-size="6.55" fill="#000000" text-anchor="end">ENST00000591614</text>
<text x="401.2" y="212.22" font-size="6.55" fill="#000000" text-anchor="end">FSIP1</text>
<text x="462.9" y="212.22" font-size="6.55" fill="#000000" text-anchor="end">ENST00000350221</text>
<text x="401.2" y="220.75" font-size="6.55" fill="#000000" text-anchor="end">FSIP1</text>
<text x="462.9" y="220.75" font-size="6.55" fill="#000000" text-anchor="end">ENST00000559547</text>
<text x="401.2" y="229.29" font-size="6.55" fill="#000000" text-anchor="end">GPR4</text>
<text x="462.9" y="229.29" font-size="6.55" fill="#000000" text-anchor="end">ENST00000323040</text>
<text x="401.2" y="237.83" font-size="6.55" fill="#000000" text-anchor="end">TSPAN6</text>
<text x="462.9" y="237.83" font-size="6.55" fill="#000000" text-anchor="end">ENST00000494424</text>
<text x="401.2" y="246.36" font-size="6.55" fill="#000000" text-anchor="end">ARL10</text>
<text x="462.9" y="246.36" font-size="6.55" fill="#000000" text-anchor="end">ENST00000514533</text>
<text x="401.2" y="254.9" font-size="6.55" fill="#000000" text-anchor="end">MIR4458HG</text>
<text x="462.9" y="254.9" font-size="6.55" fill="#000000" text-anchor="end">ENST00000652260</text>
<text x="401.2" y="263.44" font-size="6.55" fill="#000000" text-anchor="end">MIR223HG</text>
<text x="462.9" y="263.44" font-size="6.55" fill="#000000" text-anchor="end">ENST00000618234</text>
<text x="401.2" y="271.98" font-size="6.55" fill="#000000" text-anchor="end">KRAS</text>
<text x="462.9" y="271.98" font-size="6.55" fill="#000000" text-anchor="end">ENST00000256078</text>
<text x="401.2" y="280.51" font-size="6.55" fill="#000000" text-anchor="end">CLCA4</text>
<text x="462.9" y="280.51" font-size="6.55" fill="#000000" text-anchor="end">ENST00000370563</text>
<text x="401.2" y="289.05" font-size="6.55" fill="#000000" text-anchor="end">MPZ</text>
<text x="462.9" y="289.05" font-size="6.55" fill="#000000" text-anchor="end">ENST00000672602</text>
<text x="401.2" y="297.59" font-size="6.55" fill="#000000" text-anchor="end">MPZ</text>
<text x="462.9" y="297.59" font-size="6.55" fill="#000000" text-anchor="end">ENST00000533357</text>
<text x="401.2" y="306.12" font-size="6.55" fill="#000000" text-anchor="end">KIF16B</text>
<text x="462.9" y="306.12" font-size="6.55" fill="#000000" text-anchor="end">ENST00000635823</text>
<text x="401.2" y="314.66" font-size="6.55" fill="#000000" text-anchor="end">FSIP2</text>
<text x="462.9" y="314.66" font-size="6.55" fill="#000000" text-anchor="end">ENST00000415915</text>
<text x="401.2" y="323.2" font-size="6.55" fill="#000000" text-anchor="end">TPM4</text>
<text x="462.9" y="323.2" font-size="6.55" fill="#000000" text-anchor="end">ENST00000646974</text>
<text x="401.2" y="331.73" font-size="6.55" fill="#000000" text-anchor="end">SMIM6</text>
<text x="462.9" y="331.73" font-size="6.55" fill="#000000" text-anchor="end">ENST00000579469</text>
<text x="401.2" y="340.27" font-size="6.55" fill="#000000" text-anchor="end">RPL22L1</text>
<text x="462.9" y="340.27" font-size="6.55" fill="#000000" text-anchor="end">ENST00000463836</text>
<text x="401.2" y="348.81" font-size="6.55" fill="#000000" text-anchor="end">C1orf54</text>
<text x="462.9" y="348.81" font-size="6.55" fill="#000000" text-anchor="end">ENST00000369102</text>
<text x="401.2" y="357.35" font-size="6.55" fill="#000000" text-anchor="end">AC021752.1</text>
<text x="462.9" y="357.35" font-size="6.55" fill="#000000" text-anchor="end">ENST00000613161</text>
<text x="401.2" y="365.88" font-size="6.55" fill="#000000" text-anchor="end">DANT2</text>
<text x="462.9" y="365.88" font-size="6.55" fill="#000000" text-anchor="end">ENST00000664164</text>
<text x="401.2" y="374.42" font-size="6.55" fill="#000000" text-anchor="end">CFDP1</text>
<text x="462.9" y="374.42" font-size="6.55" fill="#000000" text-anchor="end">ENST00000570103</text>
<text x="401.2" y="382.96" font-size="6.55" fill="#000000" text-anchor="end">HM13</text>
<text x="462.9" y="382.96" font-size="6.55" fill="#000000" text-anchor="end">ENST00000493364</text>
<path d="M490.6 397.1V400.1M520.35 397.1V400.1M550.1 397.1V400.1M579.85 397.1V400.1M609.6 397.1V400.1" stroke="#333333" stroke-width="1.1" fill="none"/>
<text x="490.6" y="406.6" font-size="6.55" fill="#000000" text-anchor="middle">−10</text>
<text x="520.35" y="406.6" font-size="6.55" fill="#000000" text-anchor="middle">−5</text>
<text x="550.1" y="406.6" font-size="6.55" fill="#000000" text-anchor="middle">0</text>
<text x="579.85" y="406.6" font-size="6.55" fill="#000000" text-anchor="middle">5</text>
<text x="609.6" y="406.6" font-size="6.55" fill="#000000" text-anchor="middle">10</text>
<text x="549.95" y="415.3" font-size="8.15" fill="#000000" text-anchor="middle">log(Hazard Ratio)</text>
<text x="646" y="187.9" font-size="7.9" fill="#000000">P value</text>
<defs><linearGradient id="gB" x1="0" y1="0" x2="0" y2="1"><stop offset="0" stop-color="#3F65B4"/><stop offset="0.11" stop-color="#5462AE"/><stop offset="0.19" stop-color="#6E5AA8"/><stop offset="0.27" stop-color="#8A50A8"/><stop offset="0.32" stop-color="#9E4CA8"/><stop offset="0.4" stop-color="#A84C9C"/><stop offset="0.49" stop-color="#B6488C"/><stop offset="0.56" stop-color="#C44478"/><stop offset="0.62" stop-color="#D04068"/><stop offset="0.7" stop-color="#D83C58"/><stop offset="0.78" stop-color="#DC3848"/><stop offset="0.86" stop-color="#E03440"/><stop offset="0.95" stop-color="#E0302E"/><stop offset="1" stop-color="#E2302C"/></linearGradient></defs>
<rect x="646" y="192.7" width="12.4" height="63" fill="url(#gB)"/>
<path d="M646 199.65H648.48M655.92 199.65H658.4M646 214.3H648.48M655.92 214.3H658.4M646 228.3H648.48M655.92 228.3H658.4M646 242.4H648.48M655.92 242.4H658.4" stroke="#ffffff" stroke-opacity="0.8" stroke-width="0.8" fill="none"/>
<text x="662.5" y="202.38" font-size="6.5" fill="#000000">0.04</text>
<text x="662.5" y="217.03" font-size="6.5" fill="#000000">0.03</text>
<text x="662.5" y="231.03" font-size="6.5" fill="#000000">0.02</text>
<text x="662.5" y="245.13" font-size="6.5" fill="#000000">0.01</text>
<text x="10.8" y="449.8" font-size="16.8" fill="#000000">C</text>
<text x="208.4" y="449.7" font-size="12.25" fill="#000000" text-anchor="middle" xml:space="preserve">BE.LGD vs. BE.HGD+EAC</text>
<text x="208.4" y="461.2" font-size="12.25" fill="#000000" text-anchor="middle" xml:space="preserve">Cancer-specific Mortality</text>
<text x="208.4" y="472.7" font-size="12.25" fill="#000000" text-anchor="middle" xml:space="preserve">(n = 40 isoforms)</text>
<path d="M119.6 500.5H284.4M119.6 509.22H284.4M119.6 517.95H284.4M119.6 526.67H284.4M119.6 535.39H284.4M119.6 544.12H284.4M119.6 552.84H284.4M119.6 561.56H284.4M119.6 570.28H284.4M119.6 579.01H284.4M119.6 587.73H284.4M119.6 596.45H284.4M119.6 605.18H284.4M119.6 613.9H284.4M119.6 622.62H284.4M119.6 631.35H284.4M119.6 640.07H284.4M119.6 648.79H284.4M119.6 657.51H284.4M119.6 666.24H284.4M119.6 674.96H284.4M119.6 683.68H284.4M119.6 692.41H284.4M119.6 701.13H284.4M119.6 709.85H284.4M119.6 718.58H284.4M119.6 727.3H284.4M119.6 736.02H284.4M119.6 744.74H284.4M119.6 753.47H284.4M119.6 762.19H284.4M119.6 770.91H284.4M119.6 779.64H284.4M119.6 788.36H284.4M119.6 797.08H284.4M119.6 805.81H284.4M119.6 814.53H284.4M119.6 823.25H284.4M119.6 831.97H284.4M119.6 840.7H284.4" stroke="#ebebeb" stroke-width="1.07" fill="none"/>
<line x1="202.3" y1="483.3" x2="202.3" y2="857.8" stroke="#333333" stroke-width="1.3" stroke-dasharray="3.22 3.22" stroke-dashoffset="2.3"/>
<path d="M226.4 500.5H277.7M226.4 500.06V500.94M277.7 500.06V500.94" stroke="#E3302C" stroke-width="1.0" stroke-opacity="0.82" fill="none"/>
<circle cx="251.9" cy="500.5" r="1.85" fill="#E3302C"/>
<path d="M209 509.22H258.3M209 508.79V509.66M258.3 508.79V509.66" stroke="#DA3048" stroke-width="1.0" stroke-opacity="0.82" fill="none"/>
<circle cx="233.3" cy="509.22" r="1.85" fill="#DA3048"/>
<path d="M203.9 517.95H257M203.9 517.51V518.38M257 517.51V518.38" stroke="#A040A8" stroke-width="1.0" stroke-opacity="0.82" fill="none"/>
<circle cx="230.5" cy="517.95" r="1.85" fill="#A040A8"/>
<path d="M204.4 526.67H250.9M204.4 526.23V527.11M250.9 526.23V527.11" stroke="#A040A8" stroke-width="1.0" stroke-opacity="0.82" fill="none"/>
<circle cx="227.4" cy="526.67" r="1.85" fill="#A040A8"/>
<path d="M206 535.39H247.1M206 534.96V535.83M247.1 534.96V535.83" stroke="#C23A7E" stroke-width="1.0" stroke-opacity="0.82" fill="none"/>
<circle cx="226.4" cy="535.39" r="1.85" fill="#C23A7E"/>
<path d="M210 544.12H238.9M210 543.68V544.55M238.9 543.68V544.55" stroke="#E3302C" stroke-width="1.0" stroke-opacity="0.82" fill="none"/>
<circle cx="224.1" cy="544.12" r="1.85" fill="#E3302C"/>
<path d="M207.2 552.84H240.2M207.2 552.4V553.27M240.2 552.4V553.27" stroke="#DA3048" stroke-width="1.0" stroke-opacity="0.82" fill="none"/>
<circle cx="223.6" cy="552.84" r="1.85" fill="#DA3048"/>
<path d="M207.5 561.56H236.6M207.5 561.12V562M236.6 561.12V562" stroke="#E3302C" stroke-width="1.0" stroke-opacity="0.82" fill="none"/>
<circle cx="222" cy="561.56" r="1.85" fill="#E3302C"/>
<path d="M203.9 570.28H238.9M203.9 569.85V570.72M238.9 569.85V570.72" stroke="#A040A8" stroke-width="1.0" stroke-opacity="0.82" fill="none"/>
<circle cx="221.5" cy="570.28" r="1.85" fill="#A040A8"/>
<path d="M204.7 579.01H238.1M204.7 578.57V579.44M238.1 578.57V579.44" stroke="#B83C98" stroke-width="1.0" stroke-opacity="0.82" fill="none"/>
<circle cx="221.3" cy="579.01" r="1.85" fill="#B83C98"/>
<path d="M203.9 587.73H237.4M203.9 587.29V588.17M237.4 587.29V588.17" stroke="#A040A8" stroke-width="1.0" stroke-opacity="0.82" fill="none"/>
<circle cx="220.5" cy="587.73" r="1.85" fill="#A040A8"/>
<path d="M202.4 596.45H237.6M202.4 596.02V596.89M237.6 596.02V596.89" stroke="#4560BC" stroke-width="1.0" stroke-opacity="0.82" fill="none"/>
<circle cx="219.2" cy="596.45" r="1.85" fill="#4560BC"/>
<path d="M202.4 605.18H236.6M202.4 604.74V605.61M236.6 604.74V605.61" stroke="#4560BC" stroke-width="1.0" stroke-opacity="0.82" fill="none"/>
<circle cx="219.2" cy="605.18" r="1.85" fill="#4560BC"/>
<path d="M205.2 613.9H232.5M205.2 613.46V614.34M232.5 613.46V614.34" stroke="#D0305C" stroke-width="1.0" stroke-opacity="0.82" fill="none"/>
<circle cx="218.7" cy="613.9" r="1.85" fill="#D0305C"/>
<path d="M203.1 622.62H229.7M203.1 622.19V623.06M229.7 622.19V623.06" stroke="#A040A8" stroke-width="1.0" stroke-opacity="0.82" fill="none"/>
<circle cx="216.4" cy="622.62" r="1.85" fill="#A040A8"/>
<path d="M206.5 631.35H224.1M206.5 630.91V631.78M224.1 630.91V631.78" stroke="#E3302C" stroke-width="1.0" stroke-opacity="0.82" fill="none"/>
<circle cx="215.2" cy="631.35" r="1.85" fill="#E3302C"/>
<path d="M202.4 640.07H226.9M202.4 639.63V640.5M226.9 639.63V640.5" stroke="#A040A8" stroke-width="1.0" stroke-opacity="0.82" fill="none"/>
<circle cx="214.4" cy="640.07" r="1.85" fill="#A040A8"/>
<path d="M204.9 648.79H223.6M204.9 648.35V649.23M223.6 648.35V649.23" stroke="#DA3048" stroke-width="1.0" stroke-opacity="0.82" fill="none"/>
<circle cx="214.1" cy="648.79" r="1.85" fill="#DA3048"/>
<path d="M206.2 657.51H220.8M206.2 657.08V657.95M220.8 657.08V657.95" stroke="#E3302C" stroke-width="1.0" stroke-opacity="0.82" fill="none"/>
<circle cx="213.4" cy="657.51" r="1.85" fill="#E3302C"/>
<path d="M202.4 666.24H223.1M202.4 665.8V666.67M223.1 665.8V666.67" stroke="#4560BC" stroke-width="1.0" stroke-opacity="0.82" fill="none"/>
<circle cx="212.3" cy="666.24" r="1.85" fill="#4560BC"/>
<path d="M180.9 674.96H202.4M180.9 674.52V675.4M202.4 674.52V675.4" stroke="#4560BC" stroke-width="1.0" stroke-opacity="0.82" fill="none"/>
<circle cx="191.6" cy="674.96" r="1.85" fill="#4560BC"/>
<path d="M183.2 683.68H198.5M183.2 683.25V684.12M198.5 683.25V684.12" stroke="#E3302C" stroke-width="1.0" stroke-opacity="0.82" fill="none"/>
<circle cx="190.6" cy="683.68" r="1.85" fill="#E3302C"/>
<path d="M180.9 692.41H199.3M180.9 691.97V692.84M199.3 691.97V692.84" stroke="#E3302C" stroke-width="1.0" stroke-opacity="0.82" fill="none"/>
<circle cx="189.9" cy="692.41" r="1.85" fill="#E3302C"/>
<path d="M177.9 701.13H201.9M177.9 700.69V701.57M201.9 700.69V701.57" stroke="#A040A8" stroke-width="1.0" stroke-opacity="0.82" fill="none"/>
<circle cx="189.6" cy="701.13" r="1.85" fill="#A040A8"/>
<path d="M180.2 709.85H198M180.2 709.42V710.29M198 709.42V710.29" stroke="#E3302C" stroke-width="1.0" stroke-opacity="0.82" fill="none"/>
<circle cx="189.1" cy="709.85" r="1.85" fill="#E3302C"/>
<path d="M171.7 718.58H199.1M171.7 718.14V719.01M199.1 718.14V719.01" stroke="#DA3048" stroke-width="1.0" stroke-opacity="0.82" fill="none"/>
<circle cx="185.5" cy="718.58" r="1.85" fill="#DA3048"/>
<path d="M167.6 727.3H202.4M167.6 726.86V727.73M202.4 726.86V727.73" stroke="#4560BC" stroke-width="1.0" stroke-opacity="0.82" fill="none"/>
<circle cx="185" cy="727.3" r="1.85" fill="#4560BC"/>
<path d="M166.9 736.02H202.4M166.9 735.58V736.46M202.4 735.58V736.46" stroke="#4560BC" stroke-width="1.0" stroke-opacity="0.82" fill="none"/>
<circle cx="184.5" cy="736.02" r="1.85" fill="#4560BC"/>
<path d="M166.9 744.74H200.3M166.9 744.31V745.18M200.3 744.31V745.18" stroke="#A040A8" stroke-width="1.0" stroke-opacity="0.82" fill="none"/>
<circle cx="183.5" cy="744.74" r="1.85" fill="#A040A8"/>
<path d="M165.1 753.47H200.3M165.1 753.03V753.9M200.3 753.03V753.9" stroke="#A040A8" stroke-width="1.0" stroke-opacity="0.82" fill="none"/>
<circle cx="182.7" cy="753.47" r="1.85" fill="#A040A8"/>
<path d="M167.9 762.19H196.8M167.9 761.75V762.63M196.8 761.75V762.63" stroke="#E3302C" stroke-width="1.0" stroke-opacity="0.82" fill="none"/>
<circle cx="182.4" cy="762.19" r="1.85" fill="#E3302C"/>
<path d="M164.3 770.91H197.3M164.3 770.48V771.35M197.3 770.48V771.35" stroke="#DA3048" stroke-width="1.0" stroke-opacity="0.82" fill="none"/>
<circle cx="180.7" cy="770.91" r="1.85" fill="#DA3048"/>
<path d="M165.6 779.64H194.7M165.6 779.2V780.07M194.7 779.2V780.07" stroke="#E3302C" stroke-width="1.0" stroke-opacity="0.82" fill="none"/>
<circle cx="180.4" cy="779.64" r="1.85" fill="#E3302C"/>
<path d="M157.2 788.36H198.5M157.2 787.92V788.8M198.5 787.92V788.8" stroke="#C23A7E" stroke-width="1.0" stroke-opacity="0.82" fill="none"/>
<circle cx="177.6" cy="788.36" r="1.85" fill="#C23A7E"/>
<path d="M153.3 797.08H199.8M153.3 796.65V797.52M199.8 796.65V797.52" stroke="#A040A8" stroke-width="1.0" stroke-opacity="0.82" fill="none"/>
<circle cx="176.3" cy="797.08" r="1.85" fill="#A040A8"/>
<path d="M147.2 805.81H200.1M147.2 805.37V806.24M200.1 805.37V806.24" stroke="#A040A8" stroke-width="1.0" stroke-opacity="0.82" fill="none"/>
<circle cx="173.8" cy="805.81" r="1.85" fill="#A040A8"/>
<path d="M151.3 814.53H194.2M151.3 814.09V814.96M194.2 814.09V814.96" stroke="#E3302C" stroke-width="1.0" stroke-opacity="0.82" fill="none"/>
<circle cx="172.7" cy="814.53" r="1.85" fill="#E3302C"/>
<path d="M146.2 823.25H195.7M146.2 822.81V823.69M195.7 822.81V823.69" stroke="#DA3048" stroke-width="1.0" stroke-opacity="0.82" fill="none"/>
<circle cx="170.7" cy="823.25" r="1.85" fill="#DA3048"/>
<path d="M139.5 831.97H198.3M139.5 831.54V832.41M198.3 831.54V832.41" stroke="#B83C98" stroke-width="1.0" stroke-opacity="0.82" fill="none"/>
<circle cx="168.7" cy="831.97" r="1.85" fill="#B83C98"/>
<path d="M126.8 840.7H177.9M126.8 840.26V841.13M177.9 840.26V841.13" stroke="#E3302C" stroke-width="1.0" stroke-opacity="0.82" fill="none"/>
<circle cx="152.3" cy="840.7" r="1.85" fill="#E3302C"/>
<rect x="119.6" y="483.3" width="164.8" height="374.5" fill="none" stroke="#8a8a8a" stroke-width="1.07"/>
<path d="M116.6 500.5H119.6M116.6 509.22H119.6M116.6 517.95H119.6M116.6 526.67H119.6M116.6 535.39H119.6M116.6 544.12H119.6M116.6 552.84H119.6M116.6 561.56H119.6M116.6 570.28H119.6M116.6 579.01H119.6M116.6 587.73H119.6M116.6 596.45H119.6M116.6 605.18H119.6M116.6 613.9H119.6M116.6 622.62H119.6M116.6 631.35H119.6M116.6 640.07H119.6M116.6 648.79H119.6M116.6 657.51H119.6M116.6 666.24H119.6M116.6 674.96H119.6M116.6 683.68H119.6M116.6 692.41H119.6M116.6 701.13H119.6M116.6 709.85H119.6M116.6 718.58H119.6M116.6 727.3H119.6M116.6 736.02H119.6M116.6 744.74H119.6M116.6 753.47H119.6M116.6 762.19H119.6M116.6 770.91H119.6M116.6 779.64H119.6M116.6 788.36H119.6M116.6 797.08H119.6M116.6 805.81H119.6M116.6 814.53H119.6M116.6 823.25H119.6M116.6 831.97H119.6M116.6 840.7H119.6" stroke="#333333" stroke-width="1.1" fill="none"/>
<text x="51.2" y="502.89" font-size="6.95" fill="#000000" text-anchor="end">AC021752.1</text>
<text x="115.8" y="502.89" font-size="6.95" fill="#000000" text-anchor="end">ENST00000656830</text>
<text x="51.2" y="511.61" font-size="6.95" fill="#000000" text-anchor="end">MSH5−SAPCD1</text>
<text x="115.8" y="511.61" font-size="6.95" fill="#000000" text-anchor="end">ENST00000493662</text>
<text x="51.2" y="520.34" font-size="6.95" fill="#000000" text-anchor="end">ARL10</text>
<text x="115.8" y="520.34" font-size="6.95" fill="#000000" text-anchor="end">ENST00000310389</text>
<text x="51.2" y="529.06" font-size="6.95" fill="#000000" text-anchor="end">SMIM6</text>
<text x="115.8" y="529.06" font-size="6.95" fill="#000000" text-anchor="end">ENST00000556126</text>
<text x="51.2" y="537.78" font-size="6.95" fill="#000000" text-anchor="end">KRAS</text>
<text x="115.8" y="537.78" font-size="6.95" fill="#000000" text-anchor="end">ENST00000311936</text>
<text x="51.2" y="546.5" font-size="6.95" fill="#000000" text-anchor="end">RNFT1−DT</text>
<text x="115.8" y="546.5" font-size="6.95" fill="#000000" text-anchor="end">ENST00000586209</text>
<text x="51.2" y="555.23" font-size="6.95" fill="#000000" text-anchor="end">PCSK5</text>
<text x="115.8" y="555.23" font-size="6.95" fill="#000000" text-anchor="end">ENST00000376752</text>
<text x="51.2" y="563.95" font-size="6.95" fill="#000000" text-anchor="end">IGSF3</text>
<text x="115.8" y="563.95" font-size="6.95" fill="#000000" text-anchor="end">ENST00000369486</text>
<text x="51.2" y="572.67" font-size="6.95" fill="#000000" text-anchor="end">CFDP1</text>
<text x="115.8" y="572.67" font-size="6.95" fill="#000000" text-anchor="end">ENST00000283882</text>
<text x="51.2" y="581.4" font-size="6.95" fill="#000000" text-anchor="end">KIF16B</text>
<text x="115.8" y="581.4" font-size="6.95" fill="#000000" text-anchor="end">ENST00000354981</text>
<text x="51.2" y="590.12" font-size="6.95" fill="#000000" text-anchor="end">TPM4</text>
<text x="115.8" y="590.12" font-size="6.95" fill="#000000" text-anchor="end">ENST00000653979</text>
<text x="51.2" y="598.84" font-size="6.95" fill="#000000" text-anchor="end">MINDY1</text>
<text x="115.8" y="598.84" font-size="6.95" fill="#000000" text-anchor="end">ENST00000470877</text>
<text x="51.2" y="607.57" font-size="6.95" fill="#000000" text-anchor="end">SLC28A3</text>
<text x="115.8" y="607.57" font-size="6.95" fill="#000000" text-anchor="end">ENST00000495823</text>
<text x="51.2" y="616.29" font-size="6.95" fill="#000000" text-anchor="end">RAB30</text>
<text x="115.8" y="616.29" font-size="6.95" fill="#000000" text-anchor="end">ENST00000527633</text>
<text x="51.2" y="625.01" font-size="6.95" fill="#000000" text-anchor="end">FSIP2</text>
<text x="115.8" y="625.01" font-size="6.95" fill="#000000" text-anchor="end">ENST00000429412</text>
<text x="51.2" y="633.74" font-size="6.95" fill="#000000" text-anchor="end">ESPN</text>
<text x="115.8" y="633.74" font-size="6.95" fill="#000000" text-anchor="end">ENST00000475479</text>
<text x="51.2" y="642.46" font-size="6.95" fill="#000000" text-anchor="end">TSPAN6</text>
<text x="115.8" y="642.46" font-size="6.95" fill="#000000" text-anchor="end">ENST00000614008</text>
<text x="51.2" y="651.18" font-size="6.95" fill="#000000" text-anchor="end">UGT1A1</text>
<text x="115.8" y="651.18" font-size="6.95" fill="#000000" text-anchor="end">ENST00000360418</text>
<text x="51.2" y="659.9" font-size="6.95" fill="#000000" text-anchor="end">FSIP1</text>
<text x="115.8" y="659.9" font-size="6.95" fill="#000000" text-anchor="end">ENST00000350221</text>
<text x="51.2" y="668.63" font-size="6.95" fill="#000000" text-anchor="end">FSIP2−AS1</text>
<text x="115.8" y="668.63" font-size="6.95" fill="#000000" text-anchor="end">ENST00000436557</text>
<text x="51.2" y="677.35" font-size="6.95" fill="#000000" text-anchor="end">FSIP2−AS1</text>
<text x="115.8" y="677.35" font-size="6.95" fill="#000000" text-anchor="end">ENST00000429929</text>
<text x="51.2" y="686.07" font-size="6.95" fill="#000000" text-anchor="end">FSIP1</text>
<text x="115.8" y="686.07" font-size="6.95" fill="#000000" text-anchor="end">ENST00000559547</text>
<text x="51.2" y="694.8" font-size="6.95" fill="#000000" text-anchor="end">UGT1A1</text>
<text x="115.8" y="694.8" font-size="6.95" fill="#000000" text-anchor="end">ENST00000305208</text>
<text x="51.2" y="703.52" font-size="6.95" fill="#000000" text-anchor="end">TSPAN6</text>
<text x="115.8" y="703.52" font-size="6.95" fill="#000000" text-anchor="end">ENST00000494424</text>
<text x="51.2" y="712.24" font-size="6.95" fill="#000000" text-anchor="end">ESPN</text>
<text x="115.8" y="712.24" font-size="6.95" fill="#000000" text-anchor="end">ENST00000636644</text>
<text x="51.2" y="720.97" font-size="6.95" fill="#000000" text-anchor="end">RAB30</text>
<text x="115.8" y="720.97" font-size="6.95" fill="#000000" text-anchor="end">ENST00000534301</text>
<text x="51.2" y="729.69" font-size="6.95" fill="#000000" text-anchor="end">SLC28A3</text>
<text x="115.8" y="729.69" font-size="6.95" fill="#000000" text-anchor="end">ENST00000376238</text>
<text x="51.2" y="738.41" font-size="6.95" fill="#000000" text-anchor="end">MINDY1</text>
<text x="115.8" y="738.41" font-size="6.95" fill="#000000" text-anchor="end">ENST00000361936</text>
<text x="51.2" y="747.13" font-size="6.95" fill="#000000" text-anchor="end">TPM4</text>
<text x="115.8" y="747.13" font-size="6.95" fill="#000000" text-anchor="end">ENST00000646974</text>
<text x="51.2" y="755.86" font-size="6.95" fill="#000000" text-anchor="end">CFDP1</text>
<text x="115.8" y="755.86" font-size="6.95" fill="#000000" text-anchor="end">ENST00000570103</text>
<text x="51.2" y="764.58" font-size="6.95" fill="#000000" text-anchor="end">IGSF3</text>
<text x="115.8" y="764.58" font-size="6.95" fill="#000000" text-anchor="end">ENST00000369483</text>
<text x="51.2" y="773.3" font-size="6.95" fill="#000000" text-anchor="end">PCSK5</text>
<text x="115.8" y="773.3" font-size="6.95" fill="#000000" text-anchor="end">ENST00000674117</text>
<text x="51.2" y="782.03" font-size="6.95" fill="#000000" text-anchor="end">RNFT1−DT</text>
<text x="115.8" y="782.03" font-size="6.95" fill="#000000" text-anchor="end">ENST00000593015</text>
<text x="51.2" y="790.75" font-size="6.95" fill="#000000" text-anchor="end">KRAS</text>
<text x="115.8" y="790.75" font-size="6.95" fill="#000000" text-anchor="end">ENST00000256078</text>
<text x="51.2" y="799.47" font-size="6.95" fill="#000000" text-anchor="end">SMIM6</text>
<text x="115.8" y="799.47" font-size="6.95" fill="#000000" text-anchor="end">ENST00000579469</text>
<text x="51.2" y="808.2" font-size="6.95" fill="#000000" text-anchor="end">ARL10</text>
<text x="115.8" y="808.2" font-size="6.95" fill="#000000" text-anchor="end">ENST00000514533</text>
<text x="51.2" y="816.92" font-size="6.95" fill="#000000" text-anchor="end">FSIP2</text>
<text x="115.8" y="816.92" font-size="6.95" fill="#000000" text-anchor="end">ENST00000415915</text>
<text x="51.2" y="825.64" font-size="6.95" fill="#000000" text-anchor="end">MSH5−SAPCD1</text>
<text x="115.8" y="825.64" font-size="6.95" fill="#000000" text-anchor="end">ENST00000476085</text>
<text x="51.2" y="834.36" font-size="6.95" fill="#000000" text-anchor="end">KIF16B</text>
<text x="115.8" y="834.36" font-size="6.95" fill="#000000" text-anchor="end">ENST00000635823</text>
<text x="51.2" y="843.09" font-size="6.95" fill="#000000" text-anchor="end">AC021752.1</text>
<text x="115.8" y="843.09" font-size="6.95" fill="#000000" text-anchor="end">ENST00000613161</text>
<path d="M152.1 857.8V860.8M202.3 857.8V860.8M252.5 857.8V860.8" stroke="#333333" stroke-width="1.1" fill="none"/>
<text x="152.1" y="867.9" font-size="6.95" fill="#000000" text-anchor="middle">−10</text>
<text x="202.3" y="867.9" font-size="6.95" fill="#000000" text-anchor="middle">0</text>
<text x="252.5" y="867.9" font-size="6.95" fill="#000000" text-anchor="middle">10</text>
<text x="202" y="876.8" font-size="8.55" fill="#000000" text-anchor="middle">log(Hazard Ratio)</text>
<text x="297.4" y="638.2" font-size="8.4" fill="#000000">P value</text>
<defs><linearGradient id="gC" x1="0" y1="0" x2="0" y2="1"><stop offset="0" stop-color="#3F65B4"/><stop offset="0.11" stop-color="#5462AE"/><stop offset="0.19" stop-color="#6E5AA8"/><stop offset="0.27" stop-color="#8A50A8"/><stop offset="0.32" stop-color="#9E4CA8"/><stop offset="0.4" stop-color="#A84C9C"/><stop offset="0.49" stop-color="#B6488C"/><stop offset="0.56" stop-color="#C44478"/><stop offset="0.62" stop-color="#D04068"/><stop offset="0.7" stop-color="#D83C58"/><stop offset="0.78" stop-color="#DC3848"/><stop offset="0.86" stop-color="#E03440"/><stop offset="0.95" stop-color="#E0302E"/><stop offset="1" stop-color="#E2302C"/></linearGradient></defs>
<rect x="297.3" y="643.5" width="13.4" height="66.3" fill="url(#gC)"/>
<path d="M297.3 652.6H299.98M308.02 652.6H310.7M297.3 666.9H299.98M308.02 666.9H310.7M297.3 681.4H299.98M308.02 681.4H310.7M297.3 695.3H299.98M308.02 695.3H310.7" stroke="#ffffff" stroke-opacity="0.8" stroke-width="0.8" fill="none"/>
<text x="314.7" y="655.52" font-size="6.95" fill="#000000">0.04</text>
<text x="314.7" y="669.82" font-size="6.95" fill="#000000">0.03</text>
<text x="314.7" y="684.32" font-size="6.95" fill="#000000">0.02</text>
<text x="314.7" y="698.22" font-size="6.95" fill="#000000">0.01</text>
<text x="343" y="449.8" font-size="16.8" fill="#000000">D</text>
<text x="551.9" y="449.7" font-size="12.25" fill="#000000" text-anchor="middle" xml:space="preserve">BE.LGD <tspan font-style="italic">TP53</tspan> WT vs. BE.HGD+EAC <tspan font-style="italic">TP53</tspan> MUT</text>
<text x="551.9" y="461.2" font-size="12.25" fill="#000000" text-anchor="middle" xml:space="preserve">Cancer-specific Mortality</text>
<text x="551.9" y="472.7" font-size="12.25" fill="#000000" text-anchor="middle" xml:space="preserve">(n = 26 isoforms)</text>
<path d="M463.5 500.4H639.5M463.5 514.02H639.5M463.5 527.64H639.5M463.5 541.26H639.5M463.5 554.88H639.5M463.5 568.5H639.5M463.5 582.12H639.5M463.5 595.74H639.5M463.5 609.36H639.5M463.5 622.98H639.5M463.5 636.6H639.5M463.5 650.22H639.5M463.5 663.84H639.5M463.5 677.46H639.5M463.5 691.08H639.5M463.5 704.7H639.5M463.5 718.32H639.5M463.5 731.94H639.5M463.5 745.56H639.5M463.5 759.18H639.5M463.5 772.8H639.5M463.5 786.42H639.5M463.5 800.04H639.5M463.5 813.66H639.5M463.5 827.28H639.5M463.5 840.9H639.5" stroke="#ebebeb" stroke-width="1.07" fill="none"/>
<line x1="551.6" y1="482.6" x2="551.6" y2="858" stroke="#333333" stroke-width="1.3" stroke-dasharray="3.23 3.23" stroke-dashoffset="2.23"/>
<path d="M575.3 500.4H632M575.3 499.72V501.08M632 499.72V501.08" stroke="#E3302C" stroke-width="1.0" stroke-opacity="0.82" fill="none"/>
<circle cx="603.7" cy="500.4" r="1.85" fill="#E3302C"/>
<path d="M558 514.02H611.8M558 513.34V514.7M611.8 513.34V514.7" stroke="#DA3048" stroke-width="1.0" stroke-opacity="0.82" fill="none"/>
<circle cx="584.8" cy="514.02" r="1.85" fill="#DA3048"/>
<path d="M554 527.64H614.5M554 526.96V528.32M614.5 526.96V528.32" stroke="#A040A8" stroke-width="1.0" stroke-opacity="0.82" fill="none"/>
<circle cx="584.2" cy="527.64" r="1.85" fill="#A040A8"/>
<path d="M559.4 541.26H603.1M559.4 540.58V541.94M603.1 540.58V541.94" stroke="#E3302C" stroke-width="1.0" stroke-opacity="0.82" fill="none"/>
<circle cx="581.3" cy="541.26" r="1.85" fill="#E3302C"/>
<path d="M557.5 554.88H602.9M557.5 554.2V555.56M602.9 554.2V555.56" stroke="#D0305C" stroke-width="1.0" stroke-opacity="0.82" fill="none"/>
<circle cx="580.4" cy="554.88" r="1.85" fill="#D0305C"/>
<path d="M551.8 568.5H602.3M551.8 567.82V569.18M602.3 567.82V569.18" stroke="#4560BC" stroke-width="1.0" stroke-opacity="0.82" fill="none"/>
<circle cx="576.9" cy="568.5" r="1.85" fill="#4560BC"/>
<path d="M561.3 582.12H588.5M561.3 581.44V582.8M588.5 581.44V582.8" stroke="#E3302C" stroke-width="1.0" stroke-opacity="0.82" fill="none"/>
<circle cx="574.8" cy="582.12" r="1.85" fill="#E3302C"/>
<path d="M552.4 595.74H596.4M552.4 595.06V596.42M596.4 595.06V596.42" stroke="#6E4EB8" stroke-width="1.0" stroke-opacity="0.82" fill="none"/>
<circle cx="574.5" cy="595.74" r="1.85" fill="#6E4EB8"/>
<path d="M558.3 609.36H587.7M558.3 608.68V610.04M587.7 608.68V610.04" stroke="#E3302C" stroke-width="1.0" stroke-opacity="0.82" fill="none"/>
<circle cx="573.2" cy="609.36" r="1.85" fill="#E3302C"/>
<path d="M554.8 622.98H591M554.8 622.3V623.66M591 622.3V623.66" stroke="#C23A7E" stroke-width="1.0" stroke-opacity="0.82" fill="none"/>
<circle cx="572.9" cy="622.98" r="1.85" fill="#C23A7E"/>
<path d="M553.2 636.6H581M553.2 635.92V637.28M581 635.92V637.28" stroke="#B83C98" stroke-width="1.0" stroke-opacity="0.82" fill="none"/>
<circle cx="566.9" cy="636.6" r="1.85" fill="#B83C98"/>
<path d="M554.8 650.22H572.9M554.8 649.54V650.9M572.9 649.54V650.9" stroke="#E3302C" stroke-width="1.0" stroke-opacity="0.82" fill="none"/>
<circle cx="563.4" cy="650.22" r="1.85" fill="#E3302C"/>
<path d="M551.8 663.84H570.2M551.8 663.16V664.52M570.2 663.16V664.52" stroke="#6E4EB8" stroke-width="1.0" stroke-opacity="0.82" fill="none"/>
<circle cx="561" cy="663.84" r="1.85" fill="#6E4EB8"/>
<path d="M533.2 677.46H551.8M533.2 676.78V678.14M551.8 676.78V678.14" stroke="#6E4EB8" stroke-width="1.0" stroke-opacity="0.82" fill="none"/>
<circle cx="542.4" cy="677.46" r="1.85" fill="#6E4EB8"/>
<path d="M530.8 691.08H548.8M530.8 690.4V691.76M548.8 690.4V691.76" stroke="#E3302C" stroke-width="1.0" stroke-opacity="0.82" fill="none"/>
<circle cx="539.7" cy="691.08" r="1.85" fill="#E3302C"/>
<path d="M512.4 704.7H548.8M512.4 704.02V705.38M548.8 704.02V705.38" stroke="#C23A7E" stroke-width="1.0" stroke-opacity="0.82" fill="none"/>
<circle cx="530.8" cy="704.7" r="1.85" fill="#C23A7E"/>
<path d="M515.9 718.32H545.1M515.9 717.64V719M545.1 717.64V719" stroke="#E3302C" stroke-width="1.0" stroke-opacity="0.82" fill="none"/>
<circle cx="530.5" cy="718.32" r="1.85" fill="#E3302C"/>
<path d="M507.5 731.94H551.8M507.5 731.26V732.62M551.8 731.26V732.62" stroke="#6E4EB8" stroke-width="1.0" stroke-opacity="0.82" fill="none"/>
<circle cx="528.9" cy="731.94" r="1.85" fill="#6E4EB8"/>
<path d="M515.4 745.56H542.6M515.4 744.88V746.24M542.6 744.88V746.24" stroke="#E3302C" stroke-width="1.0" stroke-opacity="0.82" fill="none"/>
<circle cx="528.6" cy="745.56" r="1.85" fill="#E3302C"/>
<path d="M501.3 759.18H551.8M501.3 758.5V759.86M551.8 758.5V759.86" stroke="#4560BC" stroke-width="1.0" stroke-opacity="0.82" fill="none"/>
<circle cx="526.4" cy="759.18" r="1.85" fill="#4560BC"/>
<path d="M500.5 772.8H545.9M500.5 772.12V773.48M545.9 772.12V773.48" stroke="#D0305C" stroke-width="1.0" stroke-opacity="0.82" fill="none"/>
<circle cx="523.2" cy="772.8" r="1.85" fill="#D0305C"/>
<path d="M500.5 786.42H543.7M500.5 785.74V787.1M543.7 785.74V787.1" stroke="#E3302C" stroke-width="1.0" stroke-opacity="0.82" fill="none"/>
<circle cx="521.8" cy="786.42" r="1.85" fill="#E3302C"/>
<path d="M498.1 800.04H543.7M498.1 799.36V800.72M543.7 799.36V800.72" stroke="#E3302C" stroke-width="1.0" stroke-opacity="0.82" fill="none"/>
<circle cx="521" cy="800.04" r="1.85" fill="#E3302C"/>
<path d="M489.2 813.66H549.1M489.2 812.98V814.34M549.1 812.98V814.34" stroke="#A040A8" stroke-width="1.0" stroke-opacity="0.82" fill="none"/>
<circle cx="519.1" cy="813.66" r="1.85" fill="#A040A8"/>
<path d="M492.4 827.28H545.1M492.4 826.6V827.96M545.1 826.6V827.96" stroke="#D0305C" stroke-width="1.0" stroke-opacity="0.82" fill="none"/>
<circle cx="518.3" cy="827.28" r="1.85" fill="#D0305C"/>
<path d="M471.3 840.9H528M471.3 840.22V841.58M528 840.22V841.58" stroke="#E3302C" stroke-width="1.0" stroke-opacity="0.82" fill="none"/>
<circle cx="499.7" cy="840.9" r="1.85" fill="#E3302C"/>
<rect x="463.5" y="482.6" width="176" height="375.4" fill="none" stroke="#8a8a8a" stroke-width="1.07"/>
<path d="M460.5 500.4H463.5M460.5 514.02H463.5M460.5 527.64H463.5M460.5 541.26H463.5M460.5 554.88H463.5M460.5 568.5H463.5M460.5 582.12H463.5M460.5 595.74H463.5M460.5 609.36H463.5M460.5 622.98H463.5M460.5 636.6H463.5M460.5 650.22H463.5M460.5 663.84H463.5M460.5 677.46H463.5M460.5 691.08H463.5M460.5 704.7H463.5M460.5 718.32H463.5M460.5 731.94H463.5M460.5 745.56H463.5M460.5 759.18H463.5M460.5 772.8H463.5M460.5 786.42H463.5M460.5 800.04H463.5M460.5 813.66H463.5M460.5 827.28H463.5M460.5 840.9H463.5" stroke="#333333" stroke-width="1.1" fill="none"/>
<text x="395.1" y="502.79" font-size="6.95" fill="#000000" text-anchor="end">AC021752.1</text>
<text x="459.6" y="502.79" font-size="6.95" fill="#000000" text-anchor="end">ENST00000656830</text>
<text x="395.1" y="516.41" font-size="6.95" fill="#000000" text-anchor="end">HM13</text>
<text x="459.6" y="516.41" font-size="6.95" fill="#000000" text-anchor="end">ENST00000340852</text>
<text x="395.1" y="530.03" font-size="6.95" fill="#000000" text-anchor="end">DANT2</text>
<text x="459.6" y="530.03" font-size="6.95" fill="#000000" text-anchor="end">ENST00000430756</text>
<text x="395.1" y="543.65" font-size="6.95" fill="#000000" text-anchor="end">CFDP1</text>
<text x="459.6" y="543.65" font-size="6.95" fill="#000000" text-anchor="end">ENST00000283882</text>
<text x="395.1" y="557.27" font-size="6.95" fill="#000000" text-anchor="end">KRAS</text>
<text x="459.6" y="557.27" font-size="6.95" fill="#000000" text-anchor="end">ENST00000311936</text>
<text x="395.1" y="570.89" font-size="6.95" fill="#000000" text-anchor="end">SMIM6</text>
<text x="459.6" y="570.89" font-size="6.95" fill="#000000" text-anchor="end">ENST00000556126</text>
<text x="395.1" y="584.51" font-size="6.95" fill="#000000" text-anchor="end">CLCA4</text>
<text x="459.6" y="584.51" font-size="6.95" fill="#000000" text-anchor="end">ENST00000496322</text>
<text x="395.1" y="598.13" font-size="6.95" fill="#000000" text-anchor="end">KIF16B</text>
<text x="459.6" y="598.13" font-size="6.95" fill="#000000" text-anchor="end">ENST00000354981</text>
<text x="395.1" y="611.75" font-size="6.95" fill="#000000" text-anchor="end">GPR4</text>
<text x="459.6" y="611.75" font-size="6.95" fill="#000000" text-anchor="end">ENST00000591614</text>
<text x="395.1" y="625.37" font-size="6.95" fill="#000000" text-anchor="end">TPM4</text>
<text x="459.6" y="625.37" font-size="6.95" fill="#000000" text-anchor="end">ENST00000653979</text>
<text x="395.1" y="638.99" font-size="6.95" fill="#000000" text-anchor="end">FSIP2</text>
<text x="459.6" y="638.99" font-size="6.95" fill="#000000" text-anchor="end">ENST00000429412</text>
<text x="395.1" y="652.61" font-size="6.95" fill="#000000" text-anchor="end">FSIP1</text>
<text x="459.6" y="652.61" font-size="6.95" fill="#000000" text-anchor="end">ENST00000350221</text>
<text x="395.1" y="666.23" font-size="6.95" fill="#000000" text-anchor="end">LINC02542</text>
<text x="459.6" y="666.23" font-size="6.95" fill="#000000" text-anchor="end">ENST00000668266</text>
<text x="395.1" y="679.85" font-size="6.95" fill="#000000" text-anchor="end">LINC02542</text>
<text x="459.6" y="679.85" font-size="6.95" fill="#000000" text-anchor="end">ENST00000660534</text>
<text x="395.1" y="693.47" font-size="6.95" fill="#000000" text-anchor="end">FSIP1</text>
<text x="459.6" y="693.47" font-size="6.95" fill="#000000" text-anchor="end">ENST00000559547</text>
<text x="395.1" y="707.09" font-size="6.95" fill="#000000" text-anchor="end">TPM4</text>
<text x="459.6" y="707.09" font-size="6.95" fill="#000000" text-anchor="end">ENST00000646974</text>
<text x="395.1" y="720.71" font-size="6.95" fill="#000000" text-anchor="end">GPR4</text>
<text x="459.6" y="720.71" font-size="6.95" fill="#000000" text-anchor="end">ENST00000323040</text>
<text x="395.1" y="734.33" font-size="6.95" fill="#000000" text-anchor="end">KIF16B</text>
<text x="459.6" y="734.33" font-size="6.95" fill="#000000" text-anchor="end">ENST00000635823</text>
<text x="395.1" y="747.95" font-size="6.95" fill="#000000" text-anchor="end">CLCA4</text>
<text x="459.6" y="747.95" font-size="6.95" fill="#000000" text-anchor="end">ENST00000370563</text>
<text x="395.1" y="761.57" font-size="6.95" fill="#000000" text-anchor="end">SMIM6</text>
<text x="459.6" y="761.57" font-size="6.95" fill="#000000" text-anchor="end">ENST00000579469</text>
<text x="395.1" y="775.19" font-size="6.95" fill="#000000" text-anchor="end">KRAS</text>
<text x="459.6" y="775.19" font-size="6.95" fill="#000000" text-anchor="end">ENST00000256078</text>
<text x="395.1" y="788.81" font-size="6.95" fill="#000000" text-anchor="end">CFDP1</text>
<text x="459.6" y="788.81" font-size="6.95" fill="#000000" text-anchor="end">ENST00000570103</text>
<text x="395.1" y="802.43" font-size="6.95" fill="#000000" text-anchor="end">FSIP2</text>
<text x="459.6" y="802.43" font-size="6.95" fill="#000000" text-anchor="end">ENST00000415915</text>
<text x="395.1" y="816.05" font-size="6.95" fill="#000000" text-anchor="end">DANT2</text>
<text x="459.6" y="816.05" font-size="6.95" fill="#000000" text-anchor="end">ENST00000664164</text>
<text x="395.1" y="829.67" font-size="6.95" fill="#000000" text-anchor="end">HM13</text>
<text x="459.6" y="829.67" font-size="6.95" fill="#000000" text-anchor="end">ENST00000493364</text>
<text x="395.1" y="843.29" font-size="6.95" fill="#000000" text-anchor="end">AC021752.1</text>
<text x="459.6" y="843.29" font-size="6.95" fill="#000000" text-anchor="end">ENST00000613161</text>
<path d="M500.3 858V861M551.6 858V861M602.9 858V861" stroke="#333333" stroke-width="1.1" fill="none"/>
<text x="500.3" y="867.9" font-size="6.95" fill="#000000" text-anchor="middle">−10</text>
<text x="551.6" y="867.9" font-size="6.95" fill="#000000" text-anchor="middle">0</text>
<text x="602.9" y="867.9" font-size="6.95" fill="#000000" text-anchor="middle">10</text>
<text x="551.5" y="876.8" font-size="8.55" fill="#000000" text-anchor="middle">log(Hazard Ratio)</text>
<text x="652.6" y="638.2" font-size="8.4" fill="#000000">P value</text>
<defs><linearGradient id="gD" x1="0" y1="0" x2="0" y2="1"><stop offset="0" stop-color="#3F65B4"/><stop offset="0.11" stop-color="#5462AE"/><stop offset="0.19" stop-color="#6E5AA8"/><stop offset="0.27" stop-color="#8A50A8"/><stop offset="0.32" stop-color="#9E4CA8"/><stop offset="0.4" stop-color="#A84C9C"/><stop offset="0.49" stop-color="#B6488C"/><stop offset="0.56" stop-color="#C44478"/><stop offset="0.62" stop-color="#D04068"/><stop offset="0.7" stop-color="#D83C58"/><stop offset="0.78" stop-color="#DC3848"/><stop offset="0.86" stop-color="#E03440"/><stop offset="0.95" stop-color="#E0302E"/><stop offset="1" stop-color="#E2302C"/></linearGradient></defs>
<rect x="652.4" y="643.3" width="13.5" height="66.5" fill="url(#gD)"/>
<path d="M652.4 654.4H655.1M663.2 654.4H665.9M652.4 668.5H655.1M663.2 668.5H665.9M652.4 682.4H655.1M663.2 682.4H665.9M652.4 696.4H655.1M663.2 696.4H665.9" stroke="#ffffff" stroke-opacity="0.8" stroke-width="0.8" fill="none"/>
<text x="669.8" y="657.32" font-size="6.95" fill="#000000">0.04</text>
<text x="669.8" y="671.42" font-size="6.95" fill="#000000">0.03</text>
<text x="669.8" y="685.32" font-size="6.95" fill="#000000">0.02</text>
<text x="669.8" y="699.32" font-size="6.95" fill="#000000">0.01</text>
</svg>
</body></html>
